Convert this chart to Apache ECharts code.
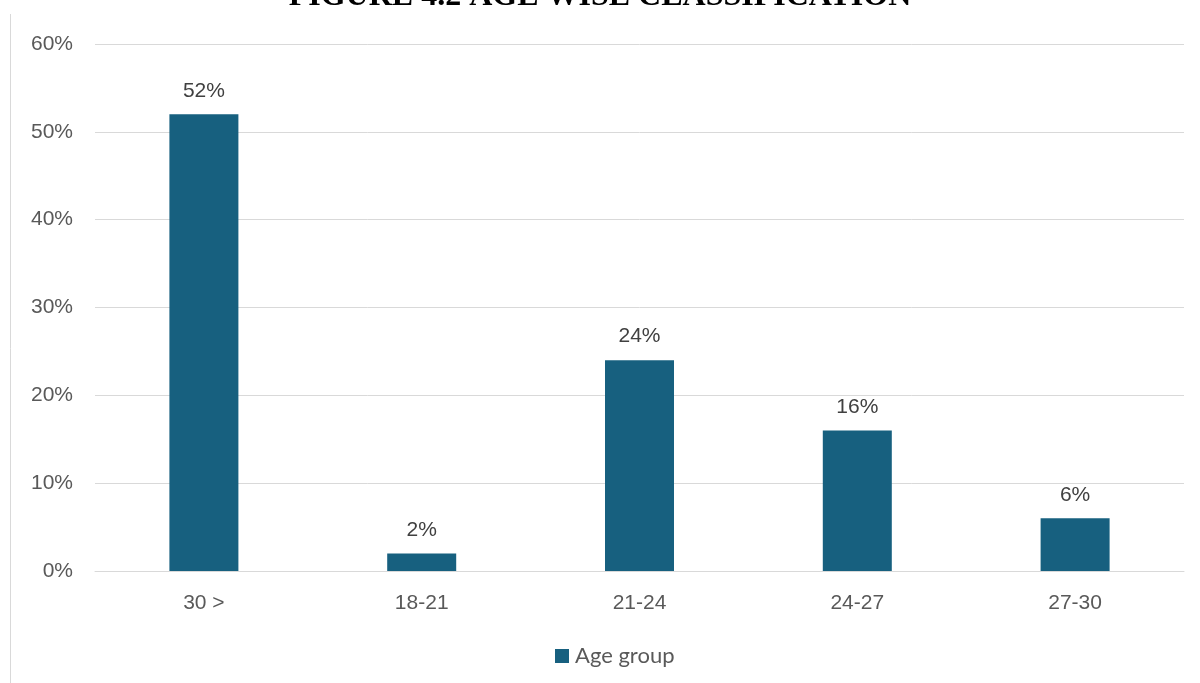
<!DOCTYPE html>
<html>
<head>
<meta charset="utf-8">
<script src="https://cdn.jsdelivr.net/npm/echarts@6/dist/echarts.min.js"></script>
<style>
  html, body { margin: 0; padding: 0; background: #ffffff; }
  #chart { width: 1200px; height: 683px; }
</style>
</head>
<body>
<div id="chart"></div>
<script>
// Age-wise classification of respondents
const categories = ['30 >', '18-21', '21-24', '24-27', '27-30'];
const ageGroupShare = [0.52, 0.02, 0.24, 0.16, 0.06];
const yTicks = { min: 0, max: 0.6, interval: 0.1 };
const seriesName = 'Age group';
const titleText = 'FIGURE 4.2 AGE WISE CLASSIFICATION';

const pct = v => Math.round(v * 100) + '%';
const SANS = 'Liberation Sans';

const chart = echarts.init(document.getElementById('chart'), null, { renderer: 'canvas' });

chart.setOption({
  backgroundColor: '#ffffff',
  animation: false,
  textStyle: { fontFamily: SANS },
  graphic: [
    {
      type: 'line',
      shape: { x1: 10.5, y1: 14, x2: 10.5, y2: 683 },
      style: { stroke: '#d9d9d9', lineWidth: 1 }
    },
    {
      type: 'text',
      left: 'center',
      top: -19,
      style: {
        text: titleText,
        font: 'bold 32px "Liberation Serif", "Times New Roman", serif',
        fill: '#000000'
      }
    }
  ],
  grid: { left: 95, right: 16, top: 44, bottom: 112, containLabel: false },
  legend: {
    bottom: 11,
    left: 550,
    itemWidth: 14,
    itemHeight: 14,
    itemGap: 10,
    icon: 'rect',
    textStyle: { fontSize: 22, color: '#595959', fontFamily: 'Lato', padding: [0, 0, 0, 1] },
    data: [seriesName]
  },
  xAxis: {
    type: 'category',
    data: categories,
    axisLine: { show: true, lineStyle: { color: '#d9d9d9', width: 1 } },
    axisTick: { show: false },
    axisLabel: { color: '#595959', fontSize: 21, fontFamily: SANS, margin: 22 }
  },
  yAxis: {
    type: 'value',
    min: yTicks.min,
    max: yTicks.max,
    interval: yTicks.interval,
    axisLine: { show: false },
    axisTick: { show: false },
    splitLine: { lineStyle: { color: '#d9d9d9', width: 1 } },
    axisLabel: { color: '#595959', fontSize: 21, fontFamily: SANS, margin: 22, formatter: v => pct(v) }
  },
  series: [
    {
      name: seriesName,
      type: 'bar',
      data: ageGroupShare,
      barWidth: 69,
      itemStyle: { color: '#17607f' },
      label: {
        show: true,
        position: 'top',
        distance: 13,
        color: '#404040',
        fontSize: 21,
        fontFamily: SANS,
        formatter: p => pct(p.value)
      }
    }
  ]
});
</script>
</body>
</html>
